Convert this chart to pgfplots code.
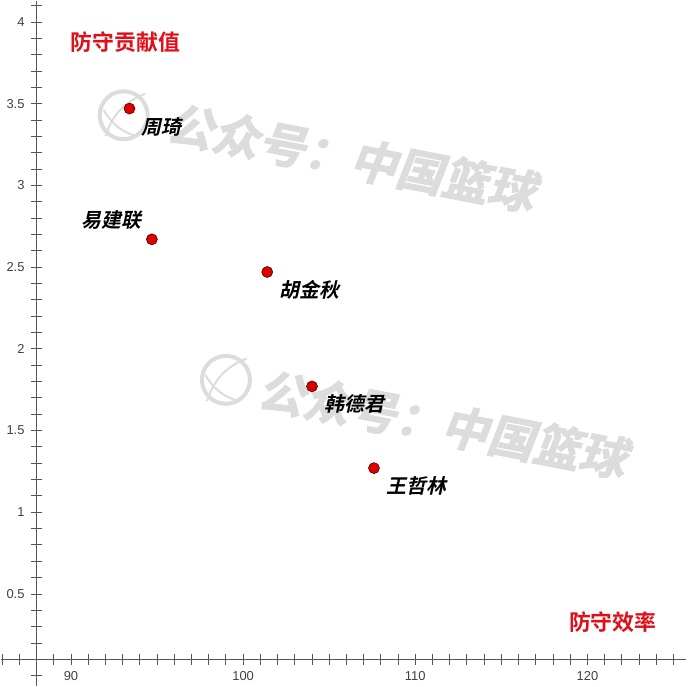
\documentclass[border=0pt]{standalone}
\usepackage{fontspec}
\setmainfont{Liberation Sans}
\newfontfamily\cjkb{Noto Sans CJK SC Bold}
\newfontfamily\cjkbi{Noto Sans CJK SC Bold}[FakeSlant=0.22]
\newfontfamily\cjkwm{Noto Sans CJK SC Bold}[FakeSlant=0.18, FakeBold=2.5]
\usepackage{pgfplots}
\pgfplotsset{compat=1.18}
\usepackage{pgfplotstable}

\definecolor{axisgray}{HTML}{555555}
\definecolor{ticktext}{HTML}{404040}
\definecolor{dotred}{HTML}{DD0000}
\definecolor{titlered}{HTML}{E0101A}
\definecolor{wmgray}{HTML}{DCDCDC}

% defensive efficiency vs defensive contribution
\pgfplotstableread{
x     y     name
93.4  3.47  周琦
101.4 2.47  胡金秋
104.0 1.77  韩德君
107.6 1.27  王哲林
}\rightlabels
\pgfplotstableread{
x     y     name
94.7  2.67  易建联
}\leftlabels

\begin{document}
\begin{tikzpicture}
\begin{axis}[
    width=687bp, height=687bp, scale only axis,
    xmin=85.91, xmax=125.75,
    ymin=-0.066, ymax=4.131,
    axis lines=middle,
    axis x line shift=-16.37bp,
    axis y line shift=-36bp,
    axis line style={-, draw=axisgray, line width=1.1bp},
    xtick={90,100,110,120},
    ytick={0.5,1,1.5,2,2.5,3,3.5,4},
    yticklabels={0.5,1,1.5,2,2.5,3,3.5,4},
    minor xtick={86,87,...,125},
    minor ytick={0,0.1,...,4.1},
    tick align=center,
    major tick length=11bp, minor tick length=11bp,
    tick style={draw=axisgray, line width=0.9bp},
    /pgf/number format/assume math mode=true,
    ticklabel style={font=\fontsize{13}{13}\selectfont, text=ticktext},
    xticklabel style={yshift=-3bp},
    yticklabel style={xshift=-3bp},
    clip=false,
]
% watermarks
\node[rotate=-11, text=wmgray, font=\cjkwm\fontsize{47}{47}\selectfont] at (axis cs:106.3,3.17) {公众号：中国篮球};
\draw[wmgray, line width=4bp] (axis cs:93.06,3.429) circle[radius=24bp];
\draw[wmgray, line width=2bp] (axis cs:92.0,3.30) to[bend left=25] (axis cs:94.3,3.56);
\draw[wmgray, line width=2bp] (axis cs:91.9,3.46) to[bend right=20] (axis cs:93.8,3.30);
\node[rotate=-11, text=wmgray, font=\cjkwm\fontsize{47}{47}\selectfont] at (axis cs:111.6,1.54) {公众号：中国篮球};
\draw[wmgray, line width=4bp] (axis cs:99.0,1.81) circle[radius=24bp];
\draw[wmgray, line width=2bp] (axis cs:97.9,1.68) to[bend left=25] (axis cs:100.2,1.94);
\draw[wmgray, line width=2bp] (axis cs:97.8,1.84) to[bend right=20] (axis cs:99.7,1.68);

\addplot[only marks, mark=*, mark size=5.5bp,
    mark options={fill=dotred, draw=black!70!red, line width=0.6bp},
    point meta=explicit symbolic,
    nodes near coords,
    every node near coord/.append style={anchor=west, inner sep=0pt,
        xshift=12bp, yshift=-18bp, font=\cjkbi\fontsize{20}{20}\selectfont, text=black}]
    table[x=x, y=y, meta=name] {\rightlabels};
\addplot[only marks, mark=*, mark size=5.5bp,
    mark options={fill=dotred, draw=black!70!red, line width=0.6bp},
    point meta=explicit symbolic,
    nodes near coords,
    every node near coord/.append style={anchor=east, inner sep=0pt,
        xshift=-10bp, yshift=19bp, font=\cjkbi\fontsize{20}{20}\selectfont, text=black}]
    table[x=x, y=y, meta=name] {\leftlabels};

\node[text=titlered, font=\cjkb\fontsize{22}{22}\selectfont] at (axis cs:93.17,3.874) {防守贡献值};
\node[text=titlered, font=\cjkb\fontsize{22}{22}\selectfont] at (axis cs:121.47,0.325) {防守效率};
\end{axis}
\end{tikzpicture}
\end{document}
